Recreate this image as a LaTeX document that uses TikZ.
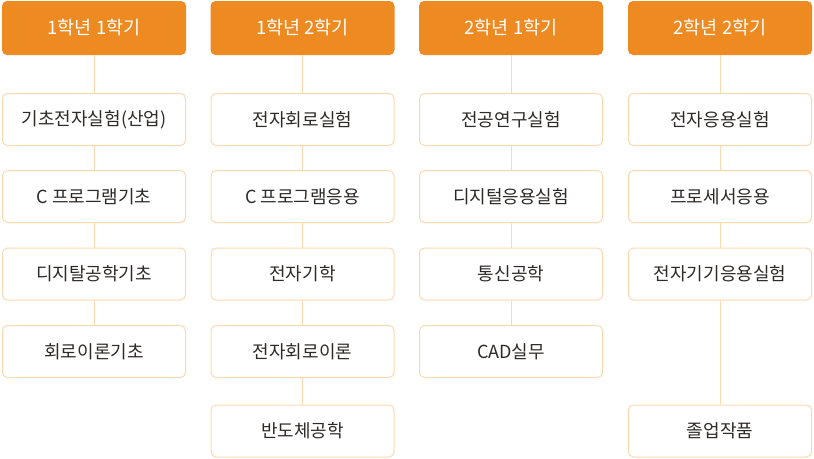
\documentclass[tikz,border=0pt]{standalone}
\usepackage{fontspec}
\setmainfont{Noto Sans CJK KR}
\definecolor{hdr}{HTML}{EE8A22}
\definecolor{bord}{HTML}{FCD9AE}
\definecolor{txt}{HTML}{2E2A28}
\begin{document}
\begin{tikzpicture}[x=1pt,y=-1pt,
  hbox/.style={draw=none,fill=hdr,rounded corners=5pt,minimum width=184pt,minimum height=54pt,inner sep=0pt,text=white,font=\fontsize{18.5}{20}\selectfont},
  cbox/.style={draw=bord,line width=1pt,fill=white,rounded corners=5pt,minimum width=183pt,minimum height=52pt,inner sep=0pt,text=txt,font=\fontsize{18}{20}\selectfont},
  conn/.style={draw=bord,line width=1pt}]
\useasboundingbox (0,0) rectangle (814,458);
% column centers
\def\ca{94}\def\cb{302.5}\def\cc{511}\def\cd{720}
% headers
\node[hbox] (h1) at (\ca,28) {1학년 1학기};
\node[hbox] (h2) at (\cb,28) {1학년 2학기};
\node[hbox] (h3) at (\cc,28) {2학년 1학기};
\node[hbox] (h4) at (\cd,28) {2학년 2학기};
% column 1
\node[cbox] (a1) at (\ca,119.5) {기초전자실험(산업)};
\node[cbox] (a2) at (\ca,196.5) {C 프로그램기초};
\node[cbox] (a3) at (\ca,274) {디지탈공학기초};
\node[cbox] (a4) at (\ca,351.5) {회로이론기초};
% column 2
\node[cbox] (b1) at (\cb,119.5) {전자회로실험};
\node[cbox] (b2) at (\cb,196.5) {C 프로그램응용};
\node[cbox] (b3) at (\cb,274) {전자기학};
\node[cbox] (b4) at (\cb,351.5) {전자회로이론};
\node[cbox] (b5) at (\cb,431) {반도체공학};
% column 3
\node[cbox] (c1) at (\cc,119.5) {전공연구실험};
\node[cbox] (c2) at (\cc,196.5) {디지털응용실험};
\node[cbox] (c3) at (\cc,274) {통신공학};
\node[cbox] (c4) at (\cc,351.5) {CAD실무};
% column 4
\node[cbox] (d1) at (\cd,119.5) {전자응용실험};
\node[cbox] (d2) at (\cd,196.5) {프로세서응용};
\node[cbox] (d3) at (\cd,274) {전자기기응용실험};
\node[cbox] (d5) at (\cd,431) {졸업작품};
% connectors
\draw[conn] (h1) -- (a1); \draw[conn] (a1) -- (a2); \draw[conn] (a2) -- (a3); \draw[conn] (a3) -- (a4);
\draw[conn] (h2) -- (b1); \draw[conn] (b1) -- (b2); \draw[conn] (b2) -- (b3); \draw[conn] (b3) -- (b4); \draw[conn] (b4) -- (b5);
\draw[conn] (h3) -- (c1); \draw[conn] (c1) -- (c2); \draw[conn] (c2) -- (c3); \draw[conn] (c3) -- (c4);
\draw[conn] (h4) -- (d1); \draw[conn] (d1) -- (d2); \draw[conn] (d2) -- (d3); \draw[conn] (d3) -- (d5);
\end{tikzpicture}
\end{document}
